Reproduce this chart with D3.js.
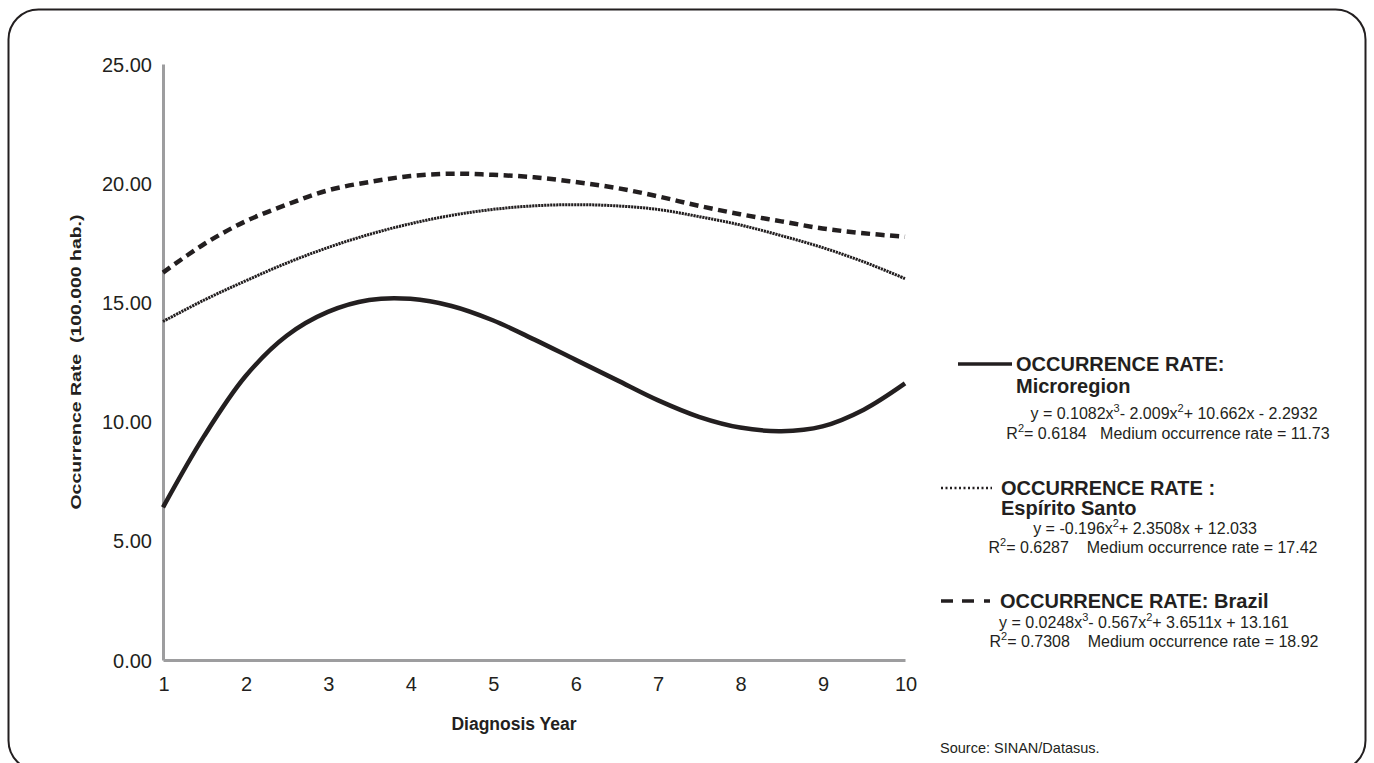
<!DOCTYPE html>
<meta charset="utf-8">
<script src="https://cdnjs.cloudflare.com/ajax/libs/d3/7.8.5/d3.min.js"></script>
<style>
body { margin: 0; background: #fff; }
text { font-family: "Liberation Sans", Arial, sans-serif; fill: #231f20; white-space: pre; }
</style>
<body>
<script>

// values, every half year
var years = [1, 1.5, 2, 2.5, 3, 3.5, 4, 4.5, 5, 5.5, 6, 6.5, 7, 7.5, 8, 8.5, 9, 9.5, 10];
var microregion = [6.4, 9.4, 11.9, 13.6, 14.6, 15.1, 15.15, 14.85, 14.25, 13.45, 12.6, 11.75, 10.9, 10.2, 9.75, 9.6, 9.8, 10.5, 11.6];
var espiritoSanto = [14.2, 15.1, 15.9, 16.65, 17.3, 17.85, 18.3, 18.65, 18.9, 19.05, 19.1, 19.05, 18.9, 18.6, 18.25, 17.8, 17.3, 16.7, 16.0];
var brazil = [16.25, 17.45, 18.4, 19.1, 19.7, 20.05, 20.3, 20.4, 20.35, 20.25, 20.05, 19.8, 19.45, 19.05, 18.7, 18.4, 18.1, 17.9, 17.75];
var xTicks = [1, 2, 3, 4, 5, 6, 7, 8, 9, 10];
var yTicks = [0, 5, 10, 15, 20, 25];

var margin = {top: 64, left: 163},
  width = 742,
  height = 596;

var svg = d3.select("body").append("svg")
  .attr("width", 1374)
  .attr("height", 763);

// frame
svg.append("rect")
  .attr("x", 8.5).attr("y", 9.5)
  .attr("width", 1357).attr("height", 761)
  .attr("rx", 30).attr("ry", 30)
  .style("fill", "none").style("stroke", "#231f20").style("stroke-width", 2);

var g = svg.append("g")
  .attr("transform", "translate(" + margin.left + "," + margin.top + ")");

var x = d3.scaleLinear().domain([1, 10]).range([0, width]);
var y = d3.scaleLinear().domain([0, 25]).range([height, 0]);

var yAxis = g.append("g")
  .call(d3.axisLeft(y).tickValues(yTicks).tickFormat(d3.format(".2f")).tickSize(0).tickPadding(11));
yAxis.select(".domain").style("stroke", "#9d9d9f").style("stroke-width", 3);
yAxis.selectAll("text").style("font-size", "20px").attr("dy", "0.35em");

var xAxis = g.append("g")
  .attr("transform", "translate(0," + height + ")")
  .call(d3.axisBottom(x).tickValues(xTicks).tickSize(0).tickPadding(17));
xAxis.select(".domain").style("stroke", "#9d9d9f").style("stroke-width", 3);
xAxis.selectAll("text").style("font-size", "20px");
xAxis.selectAll(".tick").attr("transform", function(d) { return "translate(" + (x(d) + 1) + ",0)"; });

g.append("text")
  .attr("x", 351).attr("y", height + 70)
  .style("text-anchor", "middle").style("font-size", "17.5px").style("font-weight", "bold")
  .text("Diagnosis Year");

svg.append("text")
  .attr("transform", "translate(81,362) rotate(-90)")
  .attr("textLength", 295).attr("lengthAdjust", "spacingAndGlyphs")
  .style("text-anchor", "middle").style("font-size", "15.5px").style("font-weight", "bold")
  .text("Occurrence Rate  (100.000 hab.)");

var line = d3.line()
  .x(function(d) { return x(d[0]); })
  .y(function(d) { return y(d[1]); })
  .curve(d3.curveCatmullRom);

var series = [
  {values: brazil, width: 4.5, dash: "9,5.5"},
  {values: espiritoSanto, width: 3, dash: "2.2,0.8"},
  {values: microregion, width: 4.5, dash: null}
];

series.forEach(function(s) {
  g.append("path")
    .datum(years.map(function(t, i) { return [t, s.values[i]]; }))
    .attr("d", line)
    .style("fill", "none")
    .style("stroke", "#231f20")
    .style("stroke-width", s.width)
    .style("stroke-dasharray", s.dash);
});

// legend
function keyLine(x1, x2, yy, w, dash) {
  svg.append("line")
    .attr("x1", x1).attr("x2", x2).attr("y1", yy).attr("y2", yy)
    .style("stroke", "#231f20").style("stroke-width", w).style("stroke-dasharray", dash);
}
function bold(tx, ty, str) {
  svg.append("text").attr("x", tx).attr("y", ty)
    .style("font-size", "20px").style("font-weight", "bold").text(str);
}
// parts: plain strings, superscripts written as ["3"]
function formula(cx, ty, parts) {
  var t = svg.append("text").attr("x", cx).attr("y", ty)
    .style("font-size", "16px").style("text-anchor", "middle");
  var shift = 0;
  parts.forEach(function(p) {
    if (typeof p === "string") {
      t.append("tspan").attr("dy", shift).text(p);
      shift = 0;
    } else {
      t.append("tspan").attr("dy", -7).style("font-size", "11px").text(p[0]);
      shift = 7;
    }
  });
}

keyLine(958, 1012, 364, 3.5, null);
bold(1016, 371, "OCCURRENCE RATE:");
bold(1016, 393, "Microregion");
formula(1174, 419, ["y = 0.1082x", ["3"], "- 2.009x", ["2"], "+ 10.662x - 2.2932"]);
formula(1168, 439, ["R", ["2"], "= 0.6184   Medium occurrence rate = 11.73"]);

keyLine(941, 992, 488, 2.5, "2,2.5");
bold(1001, 495, "OCCURRENCE RATE :");
bold(1001, 515, "Espírito Santo");
formula(1145, 534, ["y = -0.196x", ["2"], "+ 2.3508x + 12.033"]);
formula(1153, 553, ["R", ["2"], "= 0.6287    Medium occurrence rate = 17.42"]);

keyLine(941, 990, 601, 3.5, "12,9,12,10,6,40");
bold(1000, 608, "OCCURRENCE RATE: Brazil");
formula(1144, 628, ["y = 0.0248x", ["3"], "- 0.567x", ["2"], "+ 3.6511x + 13.161"]);
formula(1154, 647, ["R", ["2"], "= 0.7308    Medium occurrence rate = 18.92"]);

svg.append("text").attr("x", 940).attr("y", 753)
  .style("font-size", "14.5px").text("Source: SINAN/Datasus.");

</script>
</body>
</html>
